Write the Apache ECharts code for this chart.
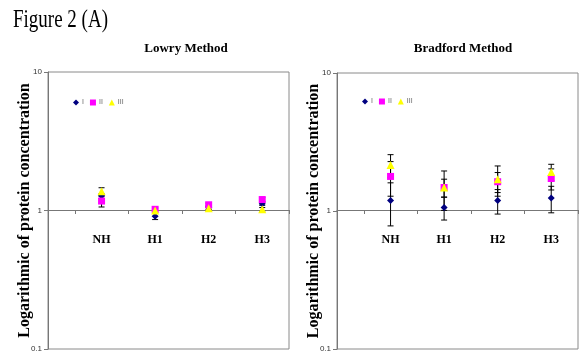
<!DOCTYPE html>
<html>
<head>
<meta charset="utf-8">
<script src="https://cdn.jsdelivr.net/npm/echarts@6/dist/echarts.min.js"></script>
<style>html,body{margin:0;padding:0;background:#fff}#c{width:579px;height:353px}</style>
</head>
<body>
<div id="c"></div>
<script>
// ---- data ----
var categories = ['NH', 'H1', 'H2', 'H3'];
var seriesNames = ['I', 'II', 'III'];
var yTicks = [0.1, 1, 10];

var lowryI = [1.27, 0.91, 1.05, 1.12];
var lowryII = [1.17, 1.02, 1.10, 1.20];
var lowryIII = [1.38, 1.00, 1.04, 1.02];
var lowryErrI = [0.05, 0.05, 0.03, 0.03];
var lowryErrII = [0.11, 0.03, 0.03, 0.04];
var lowryErrIII = [0.08, 0.03, 0.03, 0.03];

var bradI = [1.19, 1.06, 1.19, 1.24];
var bradII = [1.78, 1.48, 1.63, 1.72];
var bradIII = [2.15, 1.48, 1.70, 1.92];
var bradErrI = [0.41, 0.20, 0.24, 0.27];
var bradErrII = [0.50, 0.22, 0.27, 0.30];
var bradErrIII = [0.41, 0.47, 0.42, 0.26];

// ---- styling ----
var colors = ['#000080', '#FF00FF', '#FFFF00'];
var symbols = ['diamond', 'rect', 'triangle'];
var symbolSizes = [7, 7, 8];
var serif = 'Liberation Serif';

var panels = [
  {title: 'Lowry Method', titleX: 181, left: 48, top: 72, width: 241, height: 278, legendLeft: 68, legendTop: 94,
   vals: [lowryI, lowryII, lowryIII], errs: [lowryErrI, lowryErrII, lowryErrIII]},
  {title: 'Bradford Method', titleX: 458, left: 337, top: 73, width: 241, height: 278, legendLeft: 357, legendTop: 93,
   vals: [bradI, bradII, bradIII], errs: [bradErrI, bradErrII, bradErrIII]}
];

var grids = [], xAxes = [], yAxes = [], series = [], titles = [], legends = [];

panels.forEach(function (p, pi) {
  grids.push({left: p.left, top: p.top, width: p.width, height: p.height, show: true,
    borderColor: '#8a8a8a', borderWidth: 1, containLabel: false});
  titles.push({text: p.title, left: p.titleX, top: 37, textAlign: 'center',
    textStyle: {fontFamily: serif, fontWeight: 'bold', fontSize: 13, color: '#000'}});
  legends.push({data: seriesNames, left: p.legendLeft, top: p.legendTop, orient: 'horizontal',
    itemWidth: 6, itemHeight: 6, itemGap: 6, selectedMode: false,
    textStyle: {fontSize: 7, color: '#666', padding: [0, 0, 0, -2]}});
  xAxes.push({
    gridIndex: pi, type: 'value', min: 0, max: 4.5,
    offset: -p.height / 2,
    axisLine: {show: true, lineStyle: {color: '#777', width: 1}},
    axisTick: {show: true, length: 4, customValues: [0.5, 1.5, 2.5, 3.5, 4.5], lineStyle: {color: '#777'}},
    axisLabel: {show: true, customValues: [1, 2, 3, 4], margin: 24,
      fontFamily: serif, fontWeight: 'bold', fontSize: 12, color: '#000',
      formatter: function (v) { return categories[Math.round(v) - 1] || ''; }},
    splitLine: {show: false}
  });
  yAxes.push({
    gridIndex: pi, type: 'log', logBase: 10, min: yTicks[0], max: yTicks[yTicks.length - 1],
    axisLine: {show: true, lineStyle: {color: '#777', width: 1}},
    axisTick: {show: true, length: 4, lineStyle: {color: '#777'}},
    axisLabel: {fontSize: 8, color: '#333', margin: 6, fontFamily: 'Liberation Sans',
      formatter: function (v) { return String(v); }},
    splitLine: {show: false},
    name: 'Logarithmic of protein concentration', nameLocation: 'middle', nameRotate: 90, nameGap: 15,
    nameMoveOverlap: false,
    nameTextStyle: {fontFamily: serif, fontWeight: 'bold', fontSize: 16, color: '#000'}
  });
  // error bars
  p.vals.forEach(function (arr, si) {
    series.push({
      type: 'custom', name: 'err-' + pi + '-' + si, xAxisIndex: pi, yAxisIndex: pi, z: 1,
      data: arr.map(function (v, i) { return [i + 1, v, p.errs[si][i]]; }),
      renderItem: function (params, api) {
        var x = api.value(0), y = api.value(1), e = api.value(2);
        var t = api.coord([x, y + e]), b = api.coord([x, y - e]);
        var cw = 3;
        var st = {stroke: '#000', lineWidth: 1};
        return {type: 'group', children: [
          {type: 'line', shape: {x1: t[0], y1: t[1], x2: b[0], y2: b[1]}, style: st},
          {type: 'line', shape: {x1: t[0] - cw, y1: t[1], x2: t[0] + cw, y2: t[1]}, style: st},
          {type: 'line', shape: {x1: b[0] - cw, y1: b[1], x2: b[0] + cw, y2: b[1]}, style: st}
        ]};
      }
    });
  });
  // markers
  p.vals.forEach(function (arr, si) {
    series.push({
      type: 'scatter', name: seriesNames[si], xAxisIndex: pi, yAxisIndex: pi, z: 2 + si,
      symbol: symbols[si], symbolSize: symbolSizes[si],
      itemStyle: {color: colors[si], opacity: 1},
      data: arr.map(function (v, i) { return [i + 1, v]; })
    });
  });
});

var chart = echarts.init(document.getElementById('c'), null, {renderer: 'canvas'});
chart.setOption({
  animation: false,
  backgroundColor: '#fff',
  title: titles,
  legend: legends,
  grid: grids,
  xAxis: xAxes,
  yAxis: yAxes,
  series: series,
  graphic: [{type: 'text', x: 13, y: 8, scaleX: 0.76,
    style: {text: 'Figure 2 (A)', fontFamily: serif, fontSize: 25, fill: '#000'}}]
});
</script>
</body>
</html>
